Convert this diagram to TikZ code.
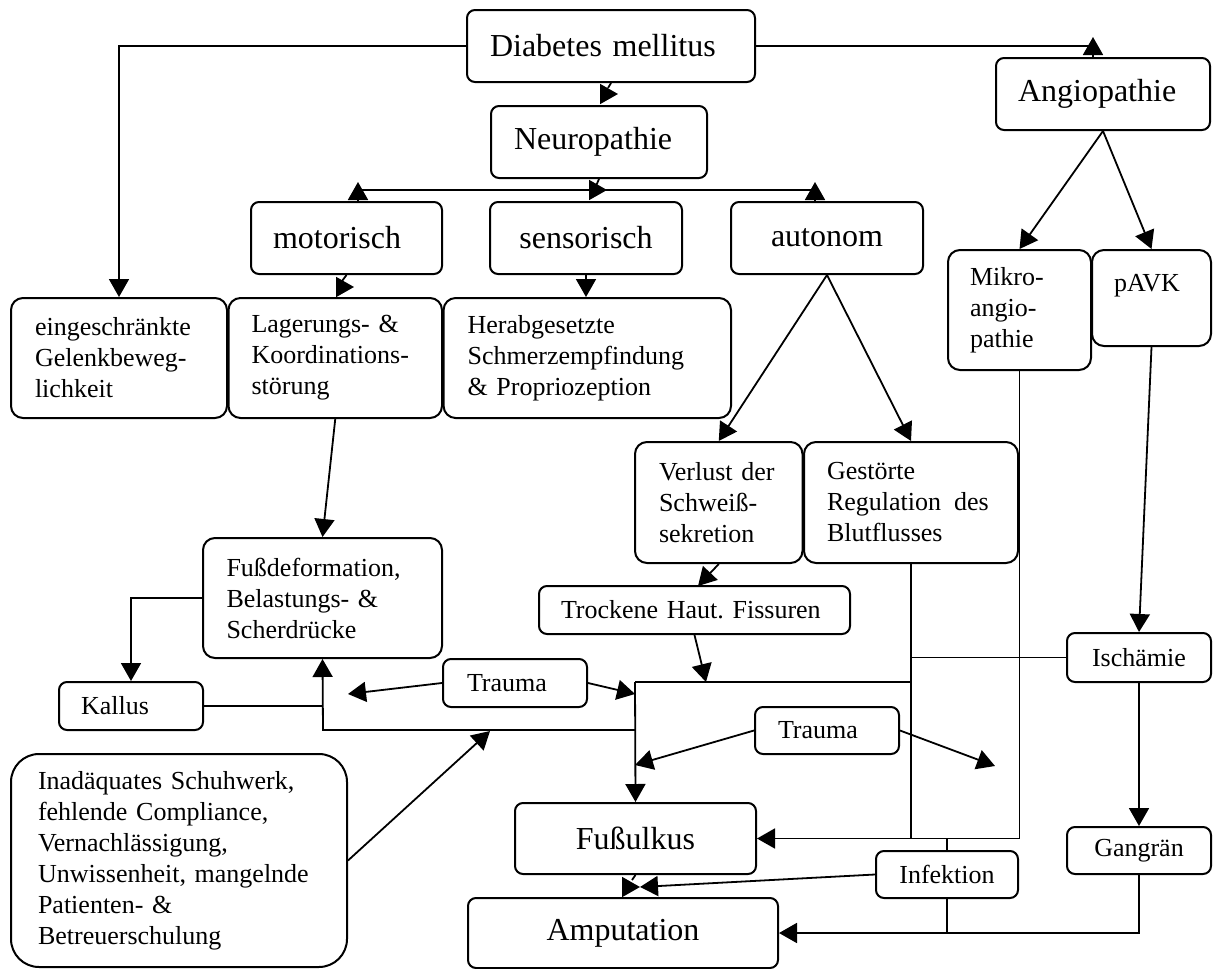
\documentclass[tikz,border=0pt]{standalone}
\usepackage{fontspec}
\setmainfont{Liberation Serif}
\usetikzlibrary{arrows.meta,calc}
\frenchspacing
\newcommand\smfont{\fontsize{26}{31}\selectfont}
\newcommand\bgfont{\fontsize{32}{38}\selectfont}
\tikzset{
 box/.style={draw, line width=2pt, rounded corners=8pt, inner sep=0pt, font=\smfont, align=center},
 lbox/.style={box, align=left},
 big/.style={font=\bgfont},
 tall/.style={rounded corners=12pt},
 conn/.style={line width=1.8pt},
 arr/.style={conn, -{Triangle[length=18pt,width=20pt]}},
}
\begin{document}
\begin{tikzpicture}[x=1pt,y=-1pt]
\useasboundingbox (0,0) rectangle (1213,969);
% nodes
\node[lbox,big,text width=242pt,inner xsep=23pt,minimum height=72pt] (dm) at (611,46) {Diabetes mellitus};
\node[lbox,big,text width=170pt,inner xsep=23pt,minimum height=72pt] (np) at (599,142) {Neuropathie};
\node[lbox,big,text width=147pt,inner xsep=22pt,minimum height=72pt] (mot) at (346.5,238) {motorisch};
\node[box,big,minimum width=192pt,minimum height=72pt] (sen) at (586,238) {sensorisch};
\node[box,big,minimum width=192pt,minimum height=72pt] (aut) at (827,238) {autonom};
\node[lbox,big,text width=170pt,inner xsep=22pt,minimum height=72pt] (ang) at (1103,94) {Angiopathie};
\node[lbox,tall,text width=168pt,inner xsep=24pt,minimum height=120pt] (ein) at (119,358) {eingeschränkte\\Gelenkbeweg-\\lichkeit};
\node[lbox,tall,text width=167.5pt,inner xsep=23pt,minimum height=120pt] (lag) at (335.25,358) {Lagerungs- \&\\Koordinations-\\störung};
\node[lbox,tall,text width=239.4pt,inner xsep=24pt,minimum height=120pt] (her) at (587.3,358) {Herabgesetzte\\Schmerzempfindung\\\& Propriozeption};
\node[lbox,tall,text width=99pt,inner xsep=22pt,minimum height=120pt] (mik) at (1019.5,310) {Mikro-\\angio-\\pathie};
\node[lbox,tall,text width=75pt,inner xsep=22pt,minimum height=96pt] (pavk) at (1151.5,298) {pAVK\\\mbox{}};
\node[lbox,tall,text width=192pt,inner xsep=23.5pt,minimum height=120pt] (fud) at (322.5,598) {Fußdeformation,\\Belastungs- \&\\Scherdrücke};
\node[lbox,text width=100pt,inner xsep=22pt,minimum height=48pt] (kal) at (131,706) {Kallus};
\node[lbox,text width=96pt,inner xsep=24pt,minimum height=48pt] (tr1) at (515,683) {Trauma};
\node[lbox,rounded corners=28pt,text width=282pt,inner xsep=27pt,minimum height=213pt] (ina) at (179,860.5) {Inadäquates Schuhwerk,\\fehlende Compliance,\\Vernachlässigung,\\Unwissenheit, mangelnde\\Patienten- \&\\Betreuerschulung};
\node[lbox,tall,text width=119.5pt,inner xsep=24pt,minimum height=121pt] (ver) at (718.75,502.5) {Verlust der\\Schweiß-\\sekretion};
\node[lbox,tall,text width=168pt,inner xsep=23pt,minimum height=121pt] (ges) at (911,502.5) {Gestörte\\Regulation\hspace{0.5em}des\\Blutflusses};
\node[lbox,text width=267pt,inner xsep=22pt,minimum height=48pt] (tro) at (694.5,610) {Trockene Haut. Fissuren};
\node[box,minimum width=144pt,minimum height=49pt] (isc) at (1139,657.5) {Ischämie};
\node[lbox,text width=98pt,inner xsep=23pt,minimum height=47pt] (tr2) at (827,730.5) {Trauma};
\node[box,big,minimum width=241pt,minimum height=71pt] (fus) at (635.5,838.5) {Fußulkus};
\node[box,minimum width=142pt,minimum height=47pt] (inf) at (947,874.5) {Infektion};
\node[box,minimum width=144pt,minimum height=47pt] (gan) at (1139,850.5) {Gangrän};
\node[box,big,minimum width=310pt,minimum height=70pt] (amp) at (623,933) {Amputation};
% helper coordinates
\coordinate (angin) at (1093,58);
\coordinate (dmnp1) at (608,88);
\coordinate (dmnp2) at (600,94);
\coordinate (npk) at (596,186);
\coordinate (npb) at (589,190);
\coordinate (npt) at (607,190);
\coordinate (busl) at (358,190);
\coordinate (busr) at (815,190);
\coordinate (moth) at (358,201);
\coordinate (auth) at (815,201);
\coordinate (motk) at (342,281);
\coordinate (motb) at (336,287);
\coordinate (mott) at (354,287);
\coordinate (kj) at (323,706);
\coordinate (j1) at (635,730);
\coordinate (j1l) at (323,730);
\coordinate (j2) at (635,682);
\coordinate (j2r) at (911,682);
\coordinate (t1l) at (348,694);
\coordinate (t1r) at (635,694);
\coordinate (t2l) at (635,765);
\coordinate (t2r) at (995,766);
\coordinate (inat) at (490,731);
\coordinate (trin) at (698,586);
\coordinate (trout) at (706,682);
\coordinate (fak) at (632,880);
\coordinate (fab) at (622,887);
\coordinate (fat) at (640,887);
% connectors
\draw[arr] (dm.west) -| (ein.north);
\draw[conn] (dm.east) -| (angin);
\draw[arr] (angin) -- ++(0,-21);
\draw[conn] (dm.south) -- (dmnp1);
\draw[arr] (dmnp2) -- ++(18,0);
\draw[conn] (np.south) -- (npk);
\draw[conn] (busl) -- (busr);
\draw[arr] (npb) -- (npt);
\draw[arr] (moth) -- ++(0,-19);
\draw[arr] (auth) -- ++(0,-19);
\draw[conn] (mot.south) -- (motk);
\draw[arr] (motb) -- (mott);
\draw[arr] (sen.south) -- (sen.south |- her.north);
\draw[arr] (aut.south) -- (ver.north);
\draw[arr] (aut.south) -- (ges.north);
\draw[arr] (ang.south) -- (mik.north);
\draw[arr] (ang.south) -- (pavk.north);
\draw[arr] (lag.south) -- (fud.north);
\draw[arr] (fud.west) -| (kal.north);
\draw[conn] (kal.east) -- (kj);
\draw[arr] (j1) -- (j1l) -- (fud.south);
\draw[arr] (tr1.west) -- (t1l);
\draw[arr] (tr1.east) -- (t1r);
\draw[arr] (ina.east) -- (inat);
\draw[arr] (ver.south) -- (trin);
\draw[arr] (tro.south) -- (trout);
\draw[conn] (j2) -- (j2r);
\draw[arr] (j2) -- (fus.north);
\draw[conn] (ges.south) -- (ges.south |- fus.east);
\draw[arr] (mik.south) |- (fus.east);
\draw[conn] (isc.west) -- (isc.west -| ges.south);
\draw[arr] (pavk.south) -- (isc.north);
\draw[arr] (isc.south) -- (gan.north);
\draw[arr] (gan.south) |- (amp.east);
\draw[arr] (tr2.west) -- (t2l);
\draw[arr] (tr2.east) -- (t2r);
\draw[conn] (inf.north) -- (inf.north |- fus.east);
\draw[conn] (inf.south) -- (inf.south |- amp.east);
\draw[arr] (inf.west) -- (fat);
\draw[conn] (fus.south) -- (fak);
\draw[arr] (fab) -- (fat);
\end{tikzpicture}
\end{document}
